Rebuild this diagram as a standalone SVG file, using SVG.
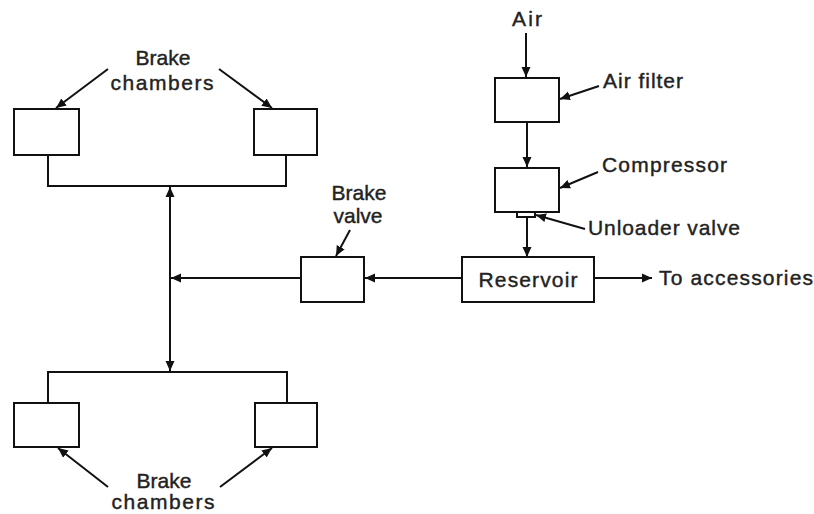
<svg xmlns="http://www.w3.org/2000/svg" width="814" height="514" viewBox="0 0 814 514">
<defs>
<marker id="ah" viewBox="0 0 10 10" refX="10" refY="5" markerWidth="10" markerHeight="10" markerUnits="userSpaceOnUse" orient="auto-start-reverse">
<path d="M0,0.5 L10,5 L0,9.5 Z" fill="#111"/>
</marker>
<style>
.box{fill:#fff;stroke:#111;stroke-width:2}
.ln{fill:none;stroke:#111;stroke-width:2}
.ar{fill:none;stroke:#111;stroke-width:2;marker-end:url(#ah)}
.ar2{fill:none;stroke:#111;stroke-width:2;marker-end:url(#ah);marker-start:url(#ah)}
text{font-family:"Liberation Sans",Arial,sans-serif;font-size:21px;fill:#222;stroke:#222;stroke-width:0.4}
.c{text-anchor:middle}
</style>
</defs>
<rect width="814" height="514" fill="#fff"/>
<g id="connectors">
<path class="ln" d="M48,155 V186 H286 V155"/>
<path class="ln" d="M48,403 V372 H287 V403"/>
<path class="ar2" d="M170,187 V371"/>
<path class="ar" d="M300,278 H171"/>
<path class="ar" d="M462,278 H365"/>
<path class="ar" d="M594,278 H652"/>
<path class="ar" d="M526,33 V77"/>
<path class="ar" d="M527,122 V167"/>
<path class="ln" d="M527,217 V248"/>
<path class="ar" d="M527,240 V257"/>
<path class="ar" d="M108,69 L56,108"/>
<path class="ar" d="M219,69 L272,108"/>
<path class="ar" d="M108,487 L58,448"/>
<path class="ar" d="M220,487 L272,448"/>
<path class="ar" d="M350,230 L336,256"/>
<path class="ar" d="M599,86 L560,99"/>
<path class="ar" d="M598,172 L560,188"/>
<path class="ar" d="M585,229 L536,215"/>
</g>
<g id="chamber-tl"><rect class="box" x="14" y="109" width="65" height="46"/></g>
<g id="chamber-tr"><rect class="box" x="254" y="109" width="63" height="46"/></g>
<g id="chamber-bl"><rect class="box" x="14" y="403" width="65" height="44"/></g>
<g id="chamber-br"><rect class="box" x="255" y="403" width="62" height="44"/></g>
<g id="brake-valve"><rect class="box" x="301" y="257" width="63" height="45"/>
<text class="c" x="359" y="200">Brake</text><text class="c" x="358" y="223">valve</text></g>
<g id="reservoir"><rect class="box" x="462" y="257" width="132" height="45"/>
<text class="c" x="528" y="287" textLength="99" lengthAdjust="spacing">Reservoir</text></g>
<g id="air-filter"><rect class="box" x="495" y="78" width="64" height="44"/>
<text x="603" y="88" textLength="80" lengthAdjust="spacing">Air filter</text></g>
<g id="compressor"><rect class="box" x="495" y="168" width="64" height="44"/>
<text x="602" y="172" textLength="125" lengthAdjust="spacing">Compressor</text></g>
<g id="unloader-valve"><rect class="box" x="517" y="212" width="18" height="5"/>
<text x="588" y="235" textLength="152" lengthAdjust="spacing">Unloader valve</text></g>
<g id="air"><text x="512" y="26" textLength="30" lengthAdjust="spacing">Air</text></g>
<g id="accessories"><text x="659" y="285" textLength="154" lengthAdjust="spacing">To accessories</text></g>
<g id="label-top"><text class="c" x="163" y="65">Brake</text><text class="c" x="162" y="90" textLength="103" lengthAdjust="spacing">chambers</text></g>
<g id="label-bottom"><text class="c" x="164" y="488">Brake</text><text class="c" x="163" y="509" textLength="103" lengthAdjust="spacing">chambers</text></g>
</svg>
